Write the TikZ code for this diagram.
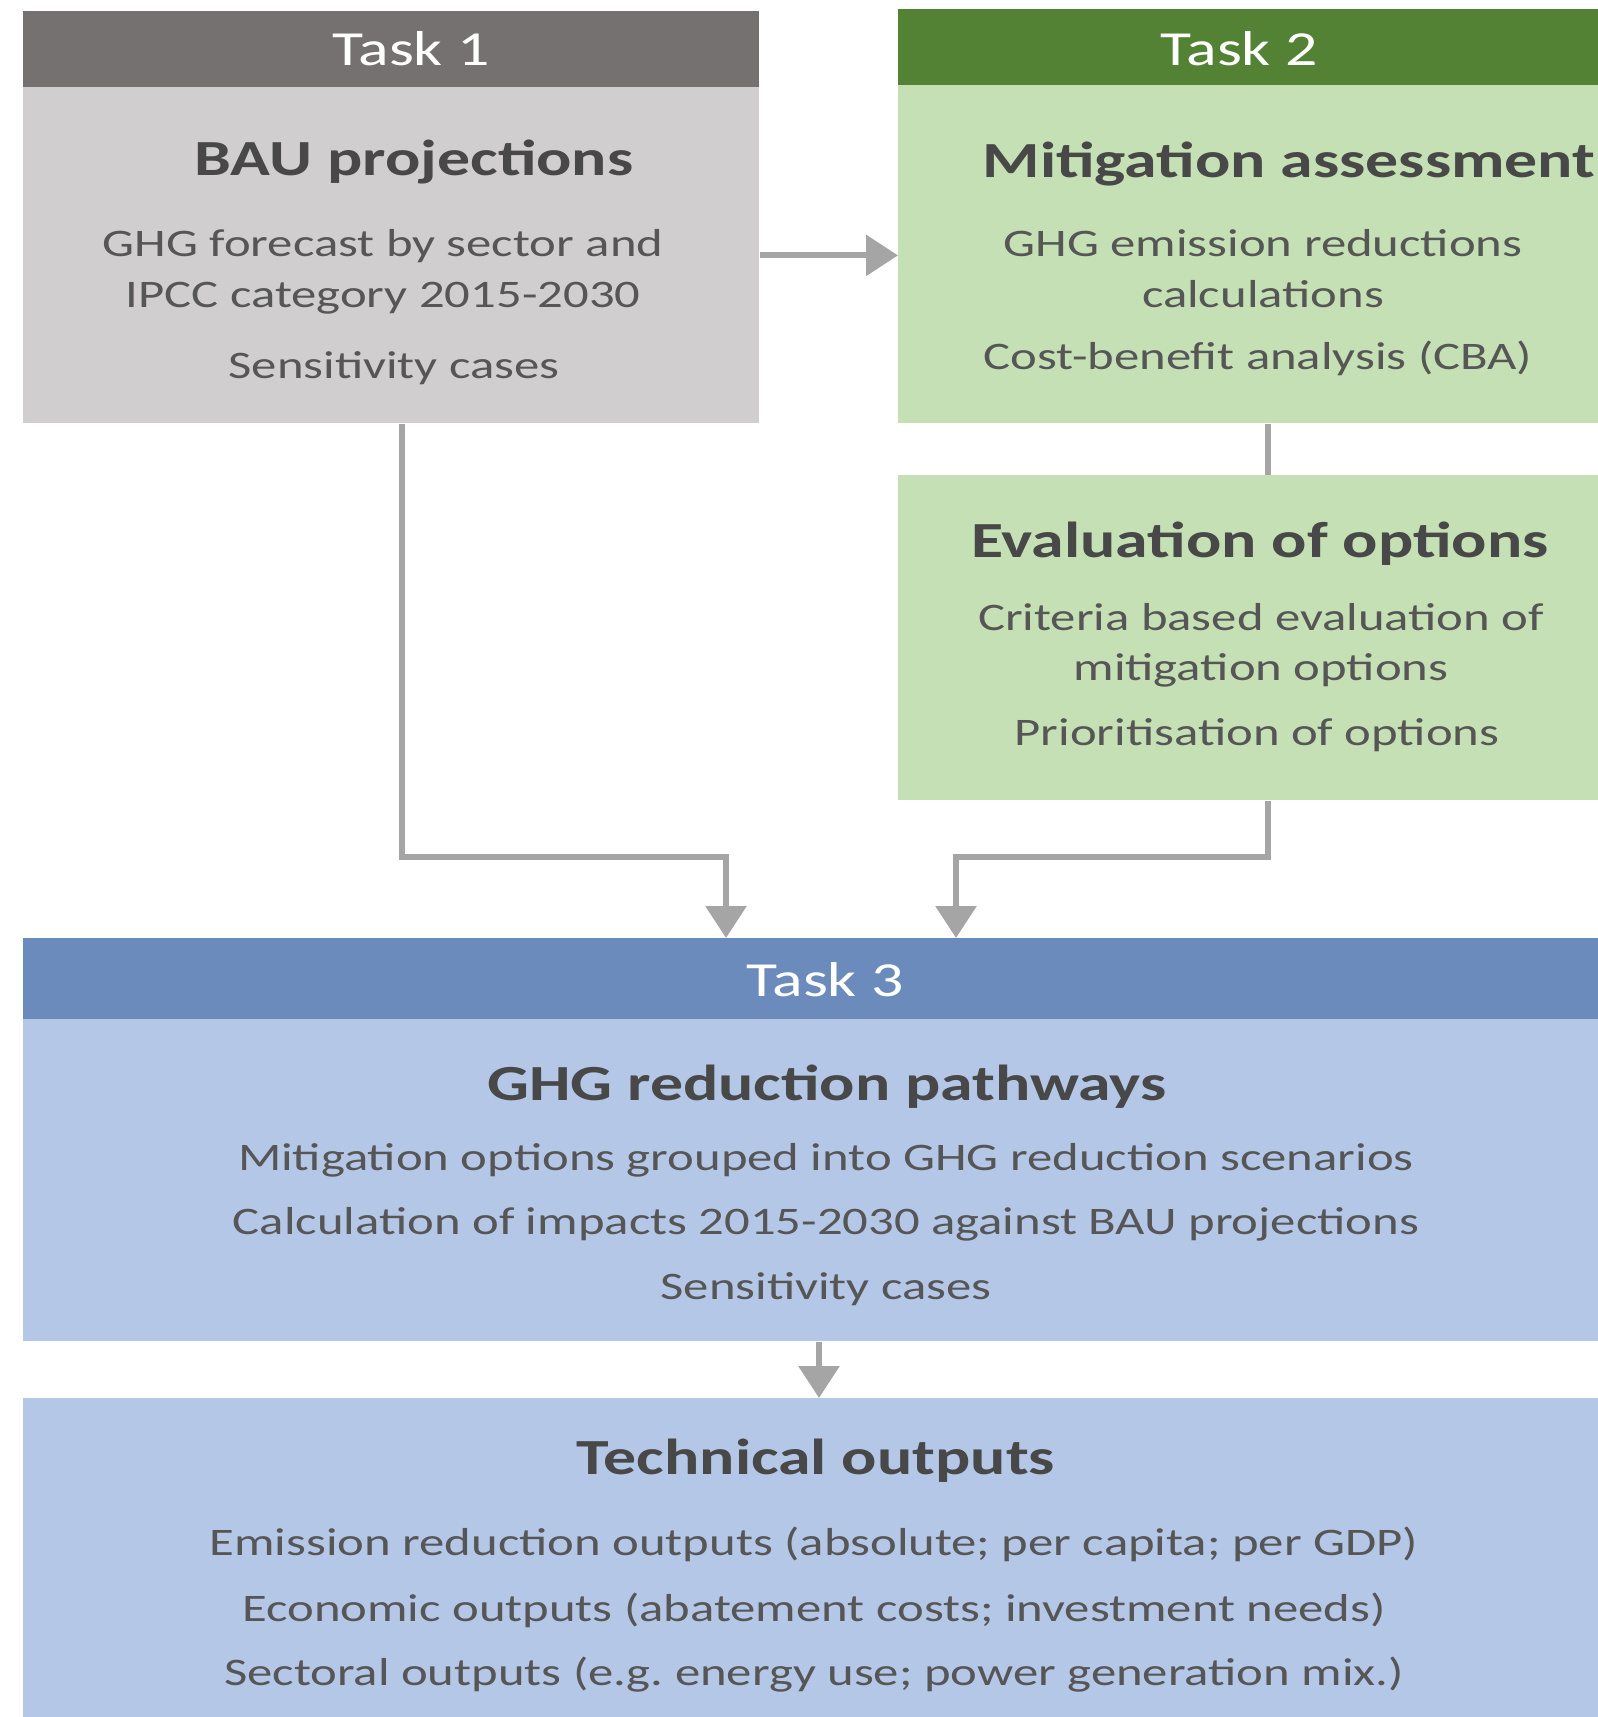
\documentclass[tikz,border=0pt]{standalone}
\usepackage{fontspec}
\setmainfont{Carlito}[FakeStretch=1.3]
\usepackage{tikz}
\usetikzlibrary{arrows.meta, positioning}
\definecolor{greyhdr}{RGB}{118,113,113}
\definecolor{greybody}{RGB}{208,206,206}
\definecolor{greenhdr}{RGB}{84,130,53}
\definecolor{greenbody}{RGB}{197,224,180}
\definecolor{bluehdr}{RGB}{106,139,188}
\definecolor{bluebody}{RGB}{180,199,231}
\definecolor{titletxt}{RGB}{72,72,72}
\definecolor{bodytxt}{RGB}{86,86,86}
\definecolor{connclr}{RGB}{165,165,165}
\frenchspacing
\tikzset{
  panel/.style={rectangle, anchor=north west, inner sep=0pt, draw=none},
  hdrtext/.style={font=\fontsize{24.5}{28}\selectfont, text=white, yshift=-5.5pt,
    inner sep=0pt, text height=0.72em, text depth=0.2em},
  titletext/.style={font=\bfseries\fontsize{25.3}{30}\selectfont, text=titletxt, yshift=-5.5pt,
    inner sep=0pt, text height=0.72em, text depth=0.2em},
  bodytext/.style={font=\fontsize{19.5}{23}\selectfont, text=bodytxt, yshift=-4pt,
    inner sep=0pt, text height=0.72em, text depth=0.2em},
  conn/.style={-{Triangle[length=16pt,width=20pt]}, line width=3pt, color=connclr},
  plainconn/.style={line width=3pt, color=connclr}
}
\begin{document}
\begin{tikzpicture}[x=0.5pt, y=-0.5pt]
  \useasboundingbox (0,0) rectangle (1598,1717);
  % Task 1
  \node[panel, fill=greyhdr, minimum width=368pt, minimum height=38pt] (t1head) at (23,11) {};
  \node[panel, fill=greybody, minimum width=368pt, minimum height=168pt] (t1body) at (23,87) {};
  \node[hdrtext] (t1lbl) at (411,49) {Task 1};
  \node[titletext] (t1title) at (414,159) {BAU projections};
  \node[bodytext] (t1lineA) at (383,243) {GHG forecast by sector and};
  \node[bodytext] (t1lineB) at (383,294) {IPCC category 2015-2030};
  \node[bodytext] (t1lineC) at (394,365) {Sensitivity cases};
  % Task 2
  \node[panel, fill=greenhdr, minimum width=350pt, minimum height=38pt] (t2head) at (898,9) {};
  \node[panel, fill=greenbody, minimum width=350pt, minimum height=169pt] (t2body) at (898,85) {};
  \node[hdrtext] (t2lbl) at (1239,49) {Task 2};
  \node[titletext] (t2title) at (1289,161) {Mitigation assessment};
  \node[bodytext] (t2lineA) at (1263,243) {GHG emission reductions};
  \node[bodytext] (t2lineB) at (1263,294) {calculations};
  \node[bodytext] (t2lineC) at (1258,356) {Cost-benefit analysis (CBA)};
  % Evaluation of options
  \node[panel, fill=greenbody, minimum width=350pt, minimum height=162.5pt] (eval) at (898,475) {};
  \node[titletext] (evtitle) at (1260,541) {Evaluation of options};
  \node[bodytext] (evlineA) at (1261,617) {Criteria based evaluation of};
  \node[bodytext] (evlineB) at (1261,667) {mitigation options};
  \node[bodytext] (evlineC) at (1257,732) {Prioritisation of options};
  % Task 3
  \node[panel, fill=bluehdr, minimum width=787.5pt, minimum height=40.5pt] (t3head) at (23,938) {};
  \node[panel, fill=bluebody, minimum width=787.5pt, minimum height=161pt] (t3body) at (23,1019) {};
  \node[hdrtext] (t3lbl) at (825,980) {Task 3};
  \node[titletext] (t3title) at (827,1084) {GHG reduction pathways};
  \node[bodytext] (t3lineA) at (826,1157) {Mitigation options grouped into GHG reduction scenarios};
  \node[bodytext] (t3lineB) at (826,1221) {Calculation of impacts 2015-2030 against BAU projections};
  \node[bodytext] (t3lineC) at (826,1286) {Sensitivity cases};
  % Technical outputs
  \node[panel, fill=bluebody, minimum width=787.5pt, minimum height=160pt] (tech) at (23,1398) {};
  \node[titletext] (tctitle) at (816,1458) {Technical outputs};
  \node[bodytext] (tclineA) at (814,1542) {Emission reduction outputs (absolute; per capita; per GDP)};
  \node[bodytext] (tclineB) at (814,1608) {Economic outputs (abatement costs; investment needs)};
  \node[bodytext] (tclineC) at (814,1672) {Sectoral outputs (e.g. energy use; power generation mix.)};
  % connectors
  \coordinate (jA) at (402,857);
  \coordinate (jB) at (726,857);
  \coordinate (kA) at (1268,857);
  \coordinate (kB) at (956,857);
  \coordinate (mA) at (819,1341);
  \draw[conn] (t1body.east) -- (t1body.east -| t2body.west);
  \draw[conn] (jA |- t1body.south) -- (jA) -- (jB) -- (jB |- t3head.north);
  \draw[plainconn] (kA |- t2body.south) -- (kA |- eval.north);
  \draw[conn] (kA |- eval.south) -- (kA) -- (kB) -- (kB |- t3head.north);
  \draw[conn] (mA |- t3body.south) -- (mA |- tech.north);
\end{tikzpicture}
\end{document}
